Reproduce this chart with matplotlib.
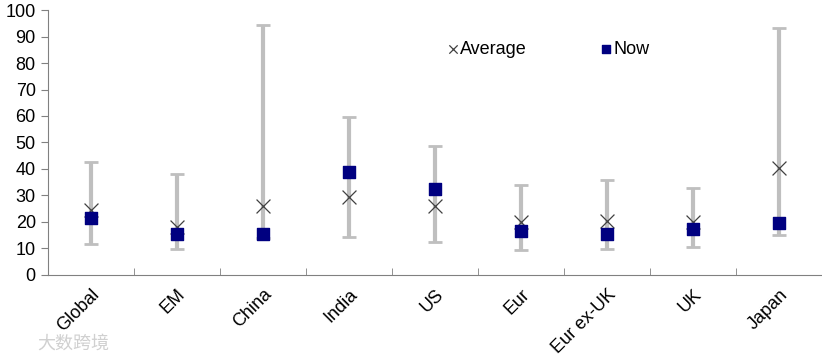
import numpy as np
import matplotlib
matplotlib.use("Agg")
import matplotlib.pyplot as plt

plt.rcParams['font.family'] = ['Liberation Sans', 'DejaVu Sans']

regions = ['Global', 'EM', 'China', 'India', 'US', 'Eur', 'Eur ex-UK', 'UK', 'Japan']
high = [42.6, 38.0, 94.3, 59.6, 48.7, 34.0, 35.8, 32.8, 93.2]
low = [11.7, 9.8, 14.0, 14.3, 12.5, 9.4, 9.8, 10.6, 15.1]
average = [24.5, 18.0, 26.0, 29.4, 26.0, 20.0, 20.4, 20.0, 40.4]
now = [21.5, 15.5, 15.5, 38.9, 32.5, 16.6, 15.5, 17.4, 19.6]

x = np.arange(len(regions))
avg = np.array(average)
yerr = [avg - np.array(low), np.array(high) - avg]

fig = plt.figure(figsize=(8.22, 3.58), dpi=100)
ax = fig.add_axes([0.058, 0.232, 0.942, 0.740])

ax.errorbar(x, avg, yerr=yerr, fmt='none', ecolor='#bfbfbf', elinewidth=3,
            capsize=5, capthick=2, zorder=1)
ax.scatter(x, average, marker='x', s=100, color='#404040', linewidths=0.9,
           zorder=2, label='Average')
ax.scatter(x, now, marker='s', s=80, color='#000080', zorder=3, label='Now')

ax.set_xlim(-0.5, len(regions) - 0.5)
ax.set_ylim(0, 100)
ax.set_yticks(np.arange(0, 101, 10))
ax.set_xticks(x)
ax.set_xticklabels(regions, rotation=45, ha='right', rotation_mode='anchor')
ax.set_xticks(np.arange(-0.5, len(regions) - 0.4, 1), minor=True)
ax.tick_params(axis='x', which='major', length=0, pad=8, labelsize=13)
ax.tick_params(axis='x', which='minor', direction='in', length=5, color='#808080')
ax.tick_params(axis='y', direction='out', length=5, color='#808080', labelsize=13)

for s in ['top', 'right']:
    ax.spines[s].set_visible(False)
for s in ['left', 'bottom']:
    ax.spines[s].set_color('#808080')

leg = ax.legend(loc='upper left', bbox_to_anchor=(0.488, 0.945), ncol=2, frameon=False,
                fontsize=13, handletextpad=-0.2, handlelength=1.2, columnspacing=3.8,
                markerscale=0.6)

fig.text(0.045, 0.025, '大数跨境', fontsize=13, color='#d0d0d0',
         family=['Noto Sans CJK SC', 'DejaVu Sans'])

fig.savefig('out.png', dpi=100)
